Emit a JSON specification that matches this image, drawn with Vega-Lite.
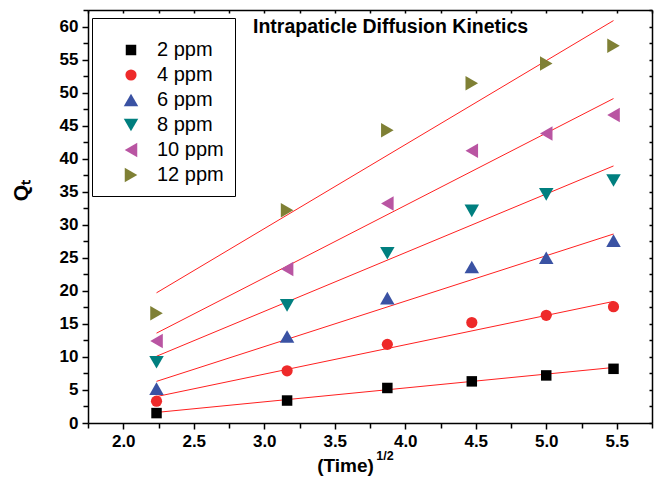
{
  "$schema": "https://vega.github.io/schema/vega-lite/v6.json",
  "width": 564,
  "height": 413,
  "autosize": {"type": "none"},
  "padding": {"left": 88, "top": 10, "right": 5, "bottom": 57},
  "background": "white",
  "config": {
    "view": {"stroke": null},
    "font": "Liberation Sans",
    "axis": {
      "grid": false,
      "domainColor": "black",
      "tickColor": "black",
      "domainWidth": 1.5,
      "tickWidth": 1.5,
      "labelFont": "Liberation Sans",
      "titleFont": "Liberation Sans",
      "labelColor": "black",
      "titleColor": "black"
    }
  },
  "datasets": {
    "pts": [
      {"series": "2 ppm", "x": 2.236, "y": 1.5},
      {"series": "2 ppm", "x": 3.162, "y": 3.4},
      {"series": "2 ppm", "x": 3.873, "y": 5.3},
      {"series": "2 ppm", "x": 4.472, "y": 6.3},
      {"series": "2 ppm", "x": 5.0, "y": 7.2},
      {"series": "2 ppm", "x": 5.477, "y": 8.2},
      {"series": "4 ppm", "x": 2.236, "y": 3.3},
      {"series": "4 ppm", "x": 3.162, "y": 7.9},
      {"series": "4 ppm", "x": 3.873, "y": 11.9},
      {"series": "4 ppm", "x": 4.472, "y": 15.2},
      {"series": "4 ppm", "x": 5.0, "y": 16.3},
      {"series": "4 ppm", "x": 5.477, "y": 17.6},
      {"series": "6 ppm", "x": 2.236, "y": 5.2},
      {"series": "6 ppm", "x": 3.162, "y": 13.1},
      {"series": "6 ppm", "x": 3.873, "y": 18.9},
      {"series": "6 ppm", "x": 4.472, "y": 23.6},
      {"series": "6 ppm", "x": 5.0, "y": 25.0},
      {"series": "6 ppm", "x": 5.477, "y": 27.6},
      {"series": "8 ppm", "x": 2.236, "y": 9.2},
      {"series": "8 ppm", "x": 3.162, "y": 17.8},
      {"series": "8 ppm", "x": 3.873, "y": 25.7},
      {"series": "8 ppm", "x": 4.472, "y": 32.1},
      {"series": "8 ppm", "x": 5.0, "y": 34.6},
      {"series": "8 ppm", "x": 5.477, "y": 36.7},
      {"series": "10 ppm", "x": 2.236, "y": 12.4},
      {"series": "10 ppm", "x": 3.162, "y": 23.3},
      {"series": "10 ppm", "x": 3.873, "y": 33.2},
      {"series": "10 ppm", "x": 4.472, "y": 41.2},
      {"series": "10 ppm", "x": 5.0, "y": 43.8},
      {"series": "10 ppm", "x": 5.477, "y": 46.6},
      {"series": "12 ppm", "x": 2.236, "y": 16.6},
      {"series": "12 ppm", "x": 3.162, "y": 32.2},
      {"series": "12 ppm", "x": 3.873, "y": 44.3},
      {"series": "12 ppm", "x": 4.472, "y": 51.4},
      {"series": "12 ppm", "x": 5.0, "y": 54.4},
      {"series": "12 ppm", "x": 5.477, "y": 57.1}
    ],
    "fits": [
      {"series": "2 ppm", "x": 2.236, "y": 1.6},
      {"series": "2 ppm", "x": 5.477, "y": 8.4},
      {"series": "4 ppm", "x": 2.236, "y": 4.0},
      {"series": "4 ppm", "x": 5.477, "y": 18.4},
      {"series": "6 ppm", "x": 2.236, "y": 6.3},
      {"series": "6 ppm", "x": 5.477, "y": 28.6},
      {"series": "8 ppm", "x": 2.236, "y": 10.1},
      {"series": "8 ppm", "x": 5.477, "y": 38.9},
      {"series": "10 ppm", "x": 2.236, "y": 13.6},
      {"series": "10 ppm", "x": 5.477, "y": 49.1},
      {"series": "12 ppm", "x": 2.236, "y": 19.7},
      {"series": "12 ppm", "x": 5.477, "y": 60.9}
    ],
    "heading": [
      {"label": "Intrapaticle Diffusion Kinetics", "x": 2.92, "y": 59.9}
    ],
    "sup": [
      {"label": "1/2", "x": 3.856, "y": -5.0}
    ]
  },
  "layer": [
    {
      "data": {"name": "fits"},
      "mark": {"type": "line", "color": "#ff2020", "strokeWidth": 1},
      "encoding": {
        "x": {
          "field": "x", "type": "quantitative",
          "scale": {"domain": [1.75, 5.75], "nice": false, "zero": false},
          "axis": {"orient": "bottom", "values": [1.75, 2.25, 2.75, 3.25, 3.75, 4.25, 4.75, 5.25, 5.75], "labels": false, "domain": false, "tickSize": 5, "title": null}
        },
        "y": {
          "field": "y", "type": "quantitative",
          "scale": {"domain": [0, 62.5], "nice": false},
          "axis": {"orient": "left", "values": [2.5, 7.5, 12.5, 17.5, 22.5, 27.5, 32.5, 37.5, 42.5, 47.5, 52.5, 57.5, 62.5], "labels": false, "domain": false, "tickSize": 5, "title": null}
        },
        "detail": {"field": "series", "type": "nominal"}
      }
    },
    {
      "data": {"name": "pts"},
      "mark": {"type": "point", "filled": true, "opacity": 1},
      "encoding": {
        "x": {
          "field": "x", "type": "quantitative",
          "scale": {"domain": [1.75, 5.75], "nice": false, "zero": false},
          "axis": {
            "orient": "bottom", "values": [2.0, 2.5, 3.0, 3.5, 4.0, 4.5, 5.0, 5.5], "format": ".1f",
            "tickSize": 6, "labelFontSize": 17, "labelFontWeight": "bold", "labelPadding": 4,
            "title": "(Time)", "titleFontSize": 19, "titleFontWeight": "bold",
            "titleX": 257, "titleY": 48, "titleBaseline": "alphabetic", "titleAlign": "center"
          }
        },
        "y": {
          "field": "y", "type": "quantitative",
          "scale": {"domain": [0, 62.5], "nice": false},
          "axis": {
            "orient": "left", "values": [0, 5, 10, 15, 20, 25, 30, 35, 40, 45, 50, 55, 60],
            "tickSize": 6, "labelFontSize": 17, "labelFontWeight": "bold", "labelPadding": 4,
            "title": "Qₜ", "titleFontSize": 21, "titleFontWeight": "bold", "titleAngle": -90,
            "titleX": -61, "titleY": 180, "titleBaseline": "alphabetic", "titleAlign": "center"
          }
        },
        "color": {
          "field": "series", "type": "nominal",
          "scale": {
            "domain": ["2 ppm", "4 ppm", "6 ppm", "8 ppm", "10 ppm", "12 ppm"],
            "range": ["#000000", "#ee2a2a", "#3a52a3", "#007f7f", "#b955a2", "#7f8035"]
          },
          "legend": {
            "title": " ", "orient": "none", "legendX": 4, "legendY": 8,
            "strokeColor": "black", "fillColor": "white", "padding": 11,
            "labelFontSize": 20, "labelFont": "Liberation Sans", "labelColor": "black",
            "titleFontSize": 8, "titlePadding": 3, "symbolOffset": 18, "labelOffset": 16,
            "rowPadding": 5, "symbolStrokeWidth": 0
          }
        },
        "shape": {
          "field": "series", "type": "nominal",
          "scale": {
            "domain": ["2 ppm", "4 ppm", "6 ppm", "8 ppm", "10 ppm", "12 ppm"],
            "range": ["square", "circle", "triangle-up", "triangle-down", "triangle-left", "triangle-right"]
          }
        },
        "size": {
          "field": "series", "type": "nominal",
          "scale": {
            "type": "ordinal",
            "domain": ["2 ppm", "4 ppm", "6 ppm", "8 ppm", "10 ppm", "12 ppm"],
            "range": [110, 125, 210, 210, 210, 210]
          }
        }
      }
    },
    {
      "data": {"name": "fits"},
      "mark": {"type": "point", "opacity": 0},
      "encoding": {
        "x": {
          "field": "x", "type": "quantitative",
          "scale": {"domain": [1.75, 5.75], "nice": false, "zero": false},
          "axis": {"orient": "top", "values": [1.75, 2.0, 2.25, 2.5, 2.75, 3.0, 3.25, 3.5, 3.75, 4.0, 4.25, 4.5, 4.75, 5.0, 5.25, 5.5, 5.75], "labels": false, "tickSize": -3, "title": null}
        },
        "y": {
          "field": "y", "type": "quantitative",
          "scale": {"domain": [0, 62.5], "nice": false},
          "axis": {"orient": "right", "values": [0, 2.5, 5, 7.5, 10, 12.5, 15, 17.5, 20, 22.5, 25, 27.5, 30, 32.5, 35, 37.5, 40, 42.5, 45, 47.5, 50, 52.5, 55, 57.5, 60, 62.5], "labels": false, "tickSize": -3, "title": null}
        }
      }
    },
    {
      "data": {"name": "heading"},
      "mark": {"type": "text", "align": "left", "baseline": "middle", "fontSize": 19.5, "fontWeight": "bold", "font": "Liberation Sans", "color": "black"},
      "encoding": {
        "x": {"field": "x", "type": "quantitative", "axis": null},
        "y": {"field": "y", "type": "quantitative", "axis": null},
        "text": {"field": "label", "type": "nominal"}
      }
    },
    {
      "data": {"name": "sup"},
      "mark": {"type": "text", "align": "center", "baseline": "middle", "fontSize": 12.5, "fontWeight": "bold", "font": "Liberation Sans", "color": "black"},
      "encoding": {
        "x": {"field": "x", "type": "quantitative", "axis": null},
        "y": {"field": "y", "type": "quantitative", "axis": null},
        "text": {"field": "label", "type": "nominal"}
      }
    }
  ],
  "resolve": {"axis": {"x": "independent", "y": "independent"}}
}
